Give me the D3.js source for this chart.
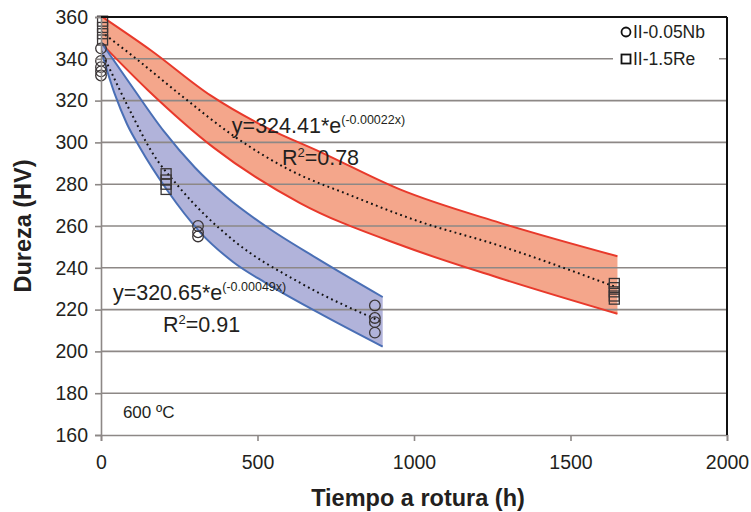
<!DOCTYPE html>
<html>
<head>
<meta charset="utf-8">
<script src="https://cdn.jsdelivr.net/npm/d3@7"></script>
<style>
  body { margin: 0; background: #fff; }
  text { font-family: "Liberation Sans", Arial, Helvetica, sans-serif; fill: #231f20; }
</style>
</head>
<body>
<svg id="chart" width="751" height="512"></svg>
<script>
// Axis ticks
const xTicks = [0, 500, 1000, 1500, 2000];
const yTicks = [160, 180, 200, 220, 240, 260, 280, 300, 320, 340, 360];

// Measured hardness, II-0.05Nb (circles)
const nbTime = [0, 0, 0, 0, 0, 310, 310, 310, 875, 875, 875, 875];
const nbHV   = [345, 339, 336, 334, 332, 260, 257, 255, 222, 216, 214, 209];

// Measured hardness, II-1.5Re (squares)
const reTime = [5, 5, 5, 5, 208, 208, 208, 208, 1640, 1640, 1640, 1640, 1640];
const reHV   = [358, 355, 352, 349, 285, 282, 280, 277.5, 232.5, 230.5, 228.5, 226.5, 225];

// Exponential trend curves (dotted)
const nbTrendT  = [0, 100, 160, 250, 420, 640, 900];
const nbTrendHV = [344, 313, 296, 278.5, 253.5, 232.5, 214];
const reTrendT  = [0, 100, 260, 420, 600, 800, 1000, 1275, 1650];
const reTrendHV = [353, 341.5, 322, 303.5, 287, 274.5, 263, 250.5, 230.5];

// Scatter bands: upper and lower envelopes
const nbUpT  = [0, 100, 200, 300, 400, 530, 690, 900];
const nbUpHV = [348, 326.5, 305.5, 288, 274, 259.5, 244.5, 226];
const nbLoT  = [0, 45, 83, 125, 211, 316, 422, 527, 690, 900];
const nbLoHV = [344, 322.7, 308.8, 297.3, 277.2, 257.1, 242.8, 232.7, 218.9, 202.3];
const reUpT  = [0, 160, 350, 530, 700, 955, 1275, 1650];
const reUpHV = [360.5, 344, 322.5, 307, 295.5, 277.5, 261.5, 245.5];
const reLoT  = [0, 150, 360, 636, 955, 1275, 1650];
const reLoHV = [347.5, 325, 297.5, 271, 251, 235, 218];

// Fit annotations
const nbEq = { text: "y=320.65*e", exp: "(-0.00049x)", r2: "0.91" };
const reEq = { text: "y=324.41*e", exp: "(-0.00022x)", r2: "0.78" };

const W = 751, H = 512;
const m = { left: 101, right: 24, top: 17, bottom: 77 };
const svg = d3.select("#chart");

const x = d3.scaleLinear().domain([0, 2000]).range([m.left, W - m.right]);
const y = d3.scaleLinear().domain([160, 360]).range([H - m.bottom, m.top]);

const gridColor = "#8d8886";
const zip = (t, v) => t.map((d, i) => [d, v[i]]);
const line = d3.line().x(d => x(d[0])).y(d => y(d[1])).curve(d3.curveMonotoneX);

svg.append("defs").append("clipPath").attr("id", "plot")
  .append("rect").attr("x", m.left).attr("y", m.top)
  .attr("width", x(2000) - m.left).attr("height", y(160) - m.top);

const plot = svg.append("g").attr("clip-path", "url(#plot)");

// Filled band between the upper and lower envelope
function band(upT, upV, loT, loV, fill) {
  const upPath = line(zip(upT, upV));
  const loPath = line(zip(loT, loV).reverse());
  plot.append("path")
    .attr("d", upPath + "L" + loPath.slice(1) + "Z")
    .attr("fill", fill);
}
band(reUpT, reUpHV, reLoT, reLoHV, "#f4a68b");
band(nbUpT, nbUpHV, nbLoT, nbLoHV, "#b1b3da");

// Horizontal gridlines
plot.append("g").selectAll("line")
  .data(yTicks.filter(v => v > 160 && v < 360))
  .join("line")
  .attr("x1", m.left).attr("x2", x(2000))
  .attr("y1", d => y(d)).attr("y2", d => y(d))
  .attr("stroke", gridColor).attr("stroke-width", 1.6);

// Band edges
function edge(t, v, color) {
  plot.append("path").attr("d", line(zip(t, v)))
    .attr("fill", "none").attr("stroke", color).attr("stroke-width", 2);
}
edge(reUpT, reUpHV, "#e8392b");
edge(reLoT, reLoHV, "#e8392b");
edge(nbUpT, nbUpHV, "#4a6fb5");
edge(nbLoT, nbLoHV, "#4a6fb5");

// Trend curves
function trend(t, v) {
  plot.append("path").attr("d", line(zip(t, v)))
    .attr("fill", "none").attr("stroke", "#111")
    .attr("stroke-width", 2).attr("stroke-dasharray", "1.8,3.4");
}
trend(reTrendT, reTrendHV);
trend(nbTrendT, nbTrendHV);

// Markers
const markerStroke = "#3a3536";
svg.append("g").selectAll("circle")
  .data(zip(nbTime, nbHV)).join("circle")
  .attr("cx", d => x(d[0])).attr("cy", d => y(d[1])).attr("r", 5.3)
  .attr("fill", "none").attr("stroke", markerStroke).attr("stroke-width", 1.3);
svg.append("g").selectAll("rect")
  .data(zip(reTime, reHV)).join("rect")
  .attr("x", d => x(d[0]) - 5).attr("y", d => y(d[1]) - 5)
  .attr("width", 10).attr("height", 10)
  .attr("fill", "none").attr("stroke", markerStroke).attr("stroke-width", 1.3);

// Axes
const yAxis = d3.axisLeft(y).tickValues(yTicks).tickSize(6).tickPadding(7);
const xAxis = d3.axisBottom(x).tickValues(xTicks).tickFormat(d3.format("d"))
  .tickSize(6).tickPadding(14);

const gy = svg.append("g").attr("transform", `translate(${m.left},0)`).call(yAxis);
const gx = svg.append("g").attr("transform", `translate(0,${y(160)})`).call(xAxis);
[gx, gy].forEach(g => {
  g.select(".domain").attr("stroke", gridColor).attr("stroke-width", 1.6);
  g.selectAll(".tick line").attr("stroke", gridColor).attr("stroke-width", 1.6);
  g.selectAll(".tick text").attr("font-size", 19.5).attr("fill", "#231f20")
    .style("font-family", '"Liberation Sans", Arial, sans-serif');
});

// Plot frame, top and right
svg.append("line").attr("x1", m.left).attr("x2", x(2000))
  .attr("y1", y(360)).attr("y2", y(360)).attr("stroke", "#111").attr("stroke-width", 2);
svg.append("line").attr("x1", x(2000)).attr("x2", x(2000))
  .attr("y1", y(360)).attr("y2", y(160)).attr("stroke", "#111").attr("stroke-width", 2);

// Axis titles
svg.append("text").attr("x", (m.left + x(2000)) / 2 + 4).attr("y", 506)
  .attr("text-anchor", "middle").attr("font-size", 23.5).attr("font-weight", "bold")
  .text("Tiempo a rotura (h)");
svg.append("text")
  .attr("transform", `translate(31,${(y(160) + y(360)) / 2}) rotate(-90)`)
  .attr("text-anchor", "middle").attr("font-size", 23.5).attr("font-weight", "bold")
  .text("Dureza (HV)");

// Fit equations
function equation(eq, hx, hv, rx, rv) {
  const t = svg.append("text").attr("x", x(hx)).attr("y", y(hv)).attr("font-size", 21.5);
  t.append("tspan").text(eq.text);
  t.append("tspan").attr("dy", -9).attr("font-size", 12.5).text(eq.exp);
  const r = svg.append("text").attr("x", x(rx)).attr("y", y(rv)).attr("font-size", 21.5);
  r.append("tspan").text("R");
  r.append("tspan").attr("dy", -8).attr("font-size", 13).text("2");
  r.append("tspan").attr("dy", 8).text("=" + eq.r2);
}
equation(reEq, 418, 304.5, 578, 289.2);
equation(nbEq, 38, 224.6, 198, 209.3);

svg.append("text").attr("x", x(70)).attr("y", y(168)).attr("font-size", 17).text("600 ºC");

// Legend
const lg = svg.append("g");
lg.append("rect").attr("x", 613).attr("y", 18).attr("width", 106).attr("height", 54).attr("fill", "#fff");
lg.append("circle").attr("cx", 626).attr("cy", 32).attr("r", 4.5)
  .attr("fill", "none").attr("stroke", "#111").attr("stroke-width", 1.8);
lg.append("text").attr("x", 633).attr("y", 38).attr("font-size", 17.5).text("II-0.05Nb");
lg.append("rect").attr("x", 621.5).attr("y", 54.5).attr("width", 9).attr("height", 9)
  .attr("fill", "none").attr("stroke", "#111").attr("stroke-width", 1.8);
lg.append("text").attr("x", 633).attr("y", 65).attr("font-size", 17.5).text("II-1.5Re");
</script>
</body>
</html>
